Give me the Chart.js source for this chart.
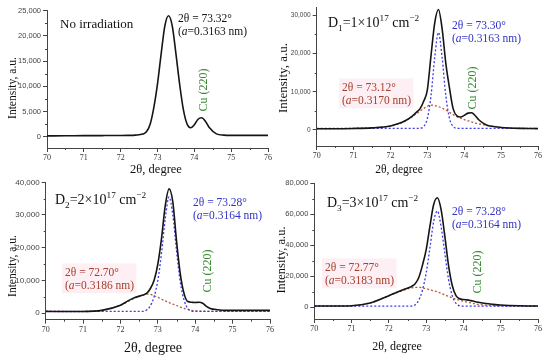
<!DOCTYPE html>
<html>
<head>
<meta charset="utf-8">
<script src="https://cdn.jsdelivr.net/npm/chart.js@4.4.1/dist/chart.umd.min.js"></script>
<style>
  body { margin: 0; background: #fff; }
  #wrap { position: relative; width: 550px; height: 358px; }
  #wrap canvas { position: absolute; left: 0; top: 0; }
</style>
</head>
<body>
<div id="wrap">
  <canvas id="p1" width="550" height="358"></canvas>
  <canvas id="p2" width="550" height="358"></canvas>
  <canvas id="p3" width="550" height="358"></canvas>
  <canvas id="p4" width="550" height="358"></canvas>
</div>
<script>
// 2theta positions (degree) shared by every curve
const twoTheta = [70, 70.5, 71, 71.5, 72, 72.2, 72.4, 72.6, 72.7, 72.8, 72.9, 73.0, 73.1, 73.2, 73.3, 73.4,
                  73.5, 73.6, 73.7, 73.8, 73.9, 74.0, 74.1, 74.2, 74.3, 74.4, 74.6, 74.8, 75, 75.5, 76];

// no irradiation
const noIrrTotal = [200, 220, 250, 260, 280, 300, 350, 550, 1000, 2500, 5800, 10500, 16500, 22000, 24000, 22000,
                    16500, 10500, 5500, 2600, 1800, 2400, 3500, 3800, 3100, 1900, 600, 350, 300, 300, 300];

// D1 = 1e17
const d1Total = [300, 320, 380, 550, 1050, 1600, 2400, 3700, 4600, 5500, 7500, 10500, 19500, 28000, 31500, 26500,
                 17500, 11000, 5500, 3700, 3400, 3800, 4400, 4500, 3700, 2600, 1300, 900, 650, 400, 350];
const d1Main = [400, 400, 400, 400, 400, 400, 400, 400, 400, 450, 900, 3000, 9000, 19000, 25500, 19000,
                9000, 3000, 900, 450, 400, 400, 400, 400, 400, 400, 400, 400, 400, 400, 400];
const d1Shift = [300, 320, 380, 550, 1000, 1500, 2300, 3500, 4200, 4900, 5600, 6200, 6500, 6400, 6100, 5700,
                 5200, 4600, 4000, 3500, 3100, 2700, 2400, 2100, 1800, 1600, 1200, 900, 650, 400, 350];

// D2 = 2e17
const d2Total = [500, 450, 450, 800, 2400, 3700, 4800, 5500, 6000, 7500, 10000, 15000, 23000, 33000, 38000, 34000,
                 22000, 12000, 6000, 3500, 3300, 3200, 3300, 3000, 2000, 1400, 1000, 800, 800, 800, 800];
const d2Main = [500, 500, 500, 500, 500, 500, 500, 500, 900, 2200, 5000, 10000, 18500, 29000, 35500, 30000,
                19000, 9500, 4000, 1400, 600, 500, 500, 500, 500, 500, 500, 500, 500, 500, 500];
const d2Shift = [500, 450, 450, 800, 2400, 3500, 4600, 5500, 5800, 5700, 5300, 4800, 4200, 3700, 3200, 2700,
                 2300, 1800, 1400, 1100, 800, 700, 600, 550, 500, 500, 500, 500, 500, 500, 500];

// D3 = 3e17
const d3Total = [800, 800, 1000, 2800, 7500, 9500, 11500, 13300, 15000, 19000, 27000, 37000, 52000, 66000, 70500, 63000,
                 46000, 27000, 14000, 7500, 5500, 5000, 4800, 4300, 3700, 3200, 2400, 1900, 1500, 1000, 800];
const d3Main = [800, 800, 800, 800, 800, 800, 800, 800, 1500, 4500, 11000, 22000, 38000, 55000, 62000, 52000,
                35000, 18000, 7500, 2500, 1000, 800, 800, 800, 800, 800, 800, 800, 800, 800, 800];
const d3Shift = [800, 800, 1000, 2800, 7500, 9300, 11000, 12500, 12800, 12800, 12500, 12000, 11300, 10600, 9900, 9000,
                 8000, 7000, 6000, 5200, 4500, 3900, 3300, 2800, 2300, 1900, 1400, 1100, 900, 800, 800];

const SERIF = '"Liberation Serif", "Times New Roman", serif';
const SANS = '"Liberation Sans", Arial, sans-serif';
const BLUE_TXT = '#3232c4';
const RED_TXT = '#a4402c';
const GREEN_TXT = '#3a8a34';

function pts(ys) {
  return twoTheta.map((x, i) => ({ x: x, y: ys[i] }));
}

function lineSet(ys, kind) {
  const styles = {
    total: { borderColor: '#151515', borderWidth: 1.6, borderDash: [] },
    main: { borderColor: '#3a3ae6', borderWidth: 1.3, borderDash: [2, 2] },
    shift: { borderColor: '#b4583e', borderWidth: 1.3, borderDash: [2, 2] }
  };
  return Object.assign({
    data: pts(ys),
    pointRadius: 0,
    fill: false,
    cubicInterpolationMode: 'monotone'
  }, styles[kind]);
}

// draw a line of text made of pieces: plain, italic, sub, sup
function drawRich(ctx, x, y, size, color, parts, align) {
  const fontFor = m => (m === 'i' ? 'italic ' : '') + ((m === 'sub' || m === 'sup') ? size * 0.66 : size) + 'px ' + SERIF;
  let w = 0;
  parts.forEach(([t, m]) => { ctx.font = fontFor(m); w += ctx.measureText(t).width; });
  let cx = align === 'center' ? x - w / 2 : x;
  ctx.fillStyle = color;
  ctx.textAlign = 'left';
  ctx.textBaseline = 'alphabetic';
  parts.forEach(([t, m]) => {
    ctx.font = fontFor(m);
    const dy = m === 'sub' ? size * 0.28 : m === 'sup' ? -size * 0.42 : 0;
    ctx.fillText(t, cx, y + dy);
    cx += ctx.measureText(t).width;
  });
  return w;
}

function peakNote(x, y, size, color, angle, lattice, bg) {
  return { type: 'peak', x, y, size, color, lines: [[['2θ = ' + angle + '°', '']], [['(', ''], ['a', 'i'], ['=' + lattice + ' nm)', '']]], bg };
}

function doseNote(x, y, n, dose) {
  return { type: 'text', x, y, size: 14, color: '#111',
    parts: [['D', ''], [n, 'sub'], ['=' + dose + '×10', ''], ['17', 'sup'], [' cm', ''], ['−2', 'sup']] };
}

const panels = [
  {
    id: 'p1', box: { left: 0, axis: 47, right: 268, top: 10.7, bottom: 148, base: 179 },
    yMin: -2200, yMax: 25000, yStep: 5000, tickSize: 7.5,
    series: [lineSet(noIrrTotal, 'total')],
    yTitle: { x: 11.5, y: 88, size: 11.5 }, xTitle: { x: 156, y: 169, size: 12.5 },
    notes: [
      { type: 'text', x: 60, y: 28, size: 13, color: '#111', parts: [['No irradiation', '']] },
      peakNote(178, 22, 11.5, '#111', '73.32', '0.3163'),
      { type: 'cu', x: 203, y: 90, size: 12 }
    ]
  },
  {
    id: 'p2', box: { left: 275, axis: 316.7, right: 538, top: 7.6, bottom: 146, base: 179 },
    yMin: -4200, yMax: 32000, yStep: 10000, tickSize: 6.5,
    series: [lineSet(d1Total, 'total'), lineSet(d1Main, 'main'), lineSet(d1Shift, 'shift')],
    yTitle: { x: 282, y: 78, size: 13 }, xTitle: { x: 399, y: 169, size: 11.5 },
    notes: [
      doseNote(328, 27, '1', '1'),
      peakNote(452, 29, 11.5, BLUE_TXT, '73.30', '0.3163'),
      peakNote(342, 91, 11.5, RED_TXT, '73.12', '0.3170', true),
      { type: 'cu', x: 472, y: 88, size: 12 }
    ]
  },
  {
    id: 'p3', box: { left: 0, axis: 45.7, right: 270, top: 182.3, bottom: 319.7, base: 358 },
    yMin: -2050, yMax: 40000, yStep: 10000, tickSize: 8,
    series: [lineSet(d2Total, 'total'), lineSet(d2Main, 'main'), lineSet(d2Shift, 'shift')],
    yTitle: { x: 12, y: 266, size: 11.5 }, xTitle: { x: 153, y: 347, size: 14 },
    notes: [
      doseNote(55, 204, '2', '2'),
      peakNote(193, 206, 11.5, BLUE_TXT, '73.28', '0.3164'),
      peakNote(65, 276, 11.5, RED_TXT, '72.70', '0.3186', true),
      { type: 'cu', x: 207, y: 271, size: 12 }
    ]
  },
  {
    id: 'p4', box: { left: 271, axis: 314.3, right: 538, top: 183, bottom: 319, base: 358 },
    yMin: -7530, yMax: 80000, yStep: 20000, tickSize: 7.5,
    series: [lineSet(d3Total, 'total'), lineSet(d3Main, 'main'), lineSet(d3Shift, 'shift')],
    yTitle: { x: 281, y: 260, size: 12.5 }, xTitle: { x: 397, y: 346, size: 12 },
    notes: [
      doseNote(327, 207, '3', '3'),
      peakNote(452, 215, 11.5, BLUE_TXT, '73.28', '0.3164'),
      peakNote(325, 271, 11.5, RED_TXT, '72.77', '0.3183', true),
      { type: 'cu', x: 477, y: 272, size: 12 }
    ]
  }
];

function makePanel(p) {
  const b = p.box;

  const extras = {
    id: 'extras' + p.id,
    afterDraw(chart) {
      const { ctx, scales: { x, y } } = chart;
      ctx.save();

      // minor ticks
      ctx.strokeStyle = '#444';
      ctx.lineWidth = 1;
      ctx.beginPath();
      for (let v = 70.5; v < 76; v += 1) {
        const px = Math.round(x.getPixelForValue(v)) + 0.5;
        ctx.moveTo(px, x.top);
        ctx.lineTo(px, x.top + 2);
      }
      const half = p.yStep / 2;
      for (let v = Math.ceil(p.yMin / half) * half; v <= p.yMax; v += half) {
        if (Math.round(v / half) % 2 === 0) continue;
        const py = Math.round(y.getPixelForValue(v)) + 0.5;
        ctx.moveTo(y.right, py);
        ctx.lineTo(y.right - 2, py);
      }
      ctx.stroke();

      // axis titles
      drawRich(ctx, p.xTitle.x, p.xTitle.y + p.xTitle.size * 0.35, p.xTitle.size, '#111', [['2θ, degree', '']], 'center');
      ctx.save();
      ctx.translate(p.yTitle.x, p.yTitle.y);
      ctx.rotate(-Math.PI / 2);
      drawRich(ctx, 0, p.yTitle.size * 0.35, p.yTitle.size, '#111', [['Intensity, a.u.', '']], 'center');
      ctx.restore();

      // notes
      p.notes.forEach(n => {
        if (n.type === 'text') {
          drawRich(ctx, n.x, n.y, n.size, n.color, n.parts);
        } else if (n.type === 'peak') {
          const gap = n.size * 1.15;
          if (n.bg) {
            ctx.font = n.size + 'px ' + SERIF;
            const w = ctx.measureText('(a=0.0000 nm)').width;
            ctx.fillStyle = 'rgba(252, 232, 238, 0.7)';
            ctx.fillRect(n.x - 3, n.y - n.size - 1, w + 6, gap + n.size + 5);
          }
          n.lines.forEach((parts, i) => drawRich(ctx, n.x, n.y + i * gap, n.size, n.color, parts));
        } else if (n.type === 'cu') {
          ctx.save();
          ctx.translate(n.x, n.y);
          ctx.rotate(-Math.PI / 2);
          drawRich(ctx, 0, n.size * 0.35, n.size, GREEN_TXT, [['Cu (220)', '']], 'center');
          ctx.restore();
        }
      });
      ctx.restore();
    }
  };

  new Chart(document.getElementById(p.id), {
    type: 'line',
    data: { datasets: p.series },
    plugins: [extras],
    options: {
      responsive: false,
      animation: false,
      events: [],
      layout: { padding: { left: b.left, top: b.top, right: 550 - b.right, bottom: 358 - b.base } },
      plugins: { legend: { display: false }, tooltip: { enabled: false } },
      scales: {
        x: {
          type: 'linear', min: 70, max: 76,
          afterFit: s => { s.height = b.base - b.bottom; },
          ticks: { stepSize: 1, padding: 1, maxRotation: 0, color: '#333', font: { family: SERIF, size: 8 } },
          grid: { drawOnChartArea: false, tickLength: 4, color: '#444' },
          border: { color: '#444' }
        },
        y: {
          min: p.yMin, max: p.yMax,
          afterFit: s => { s.width = b.axis - b.left; },
          afterBuildTicks: s => {
            const ticks = [];
            for (let v = 0; v <= p.yMax; v += p.yStep) ticks.push({ value: v });
            s.ticks = ticks;
          },
          ticks: { padding: 2, color: '#444', font: { family: SANS, size: p.tickSize } },
          grid: { drawOnChartArea: false, tickLength: 4, color: '#444' },
          border: { color: '#444' }
        }
      }
    }
  });
}

panels.forEach(makePanel);
</script>
</body>
</html>
